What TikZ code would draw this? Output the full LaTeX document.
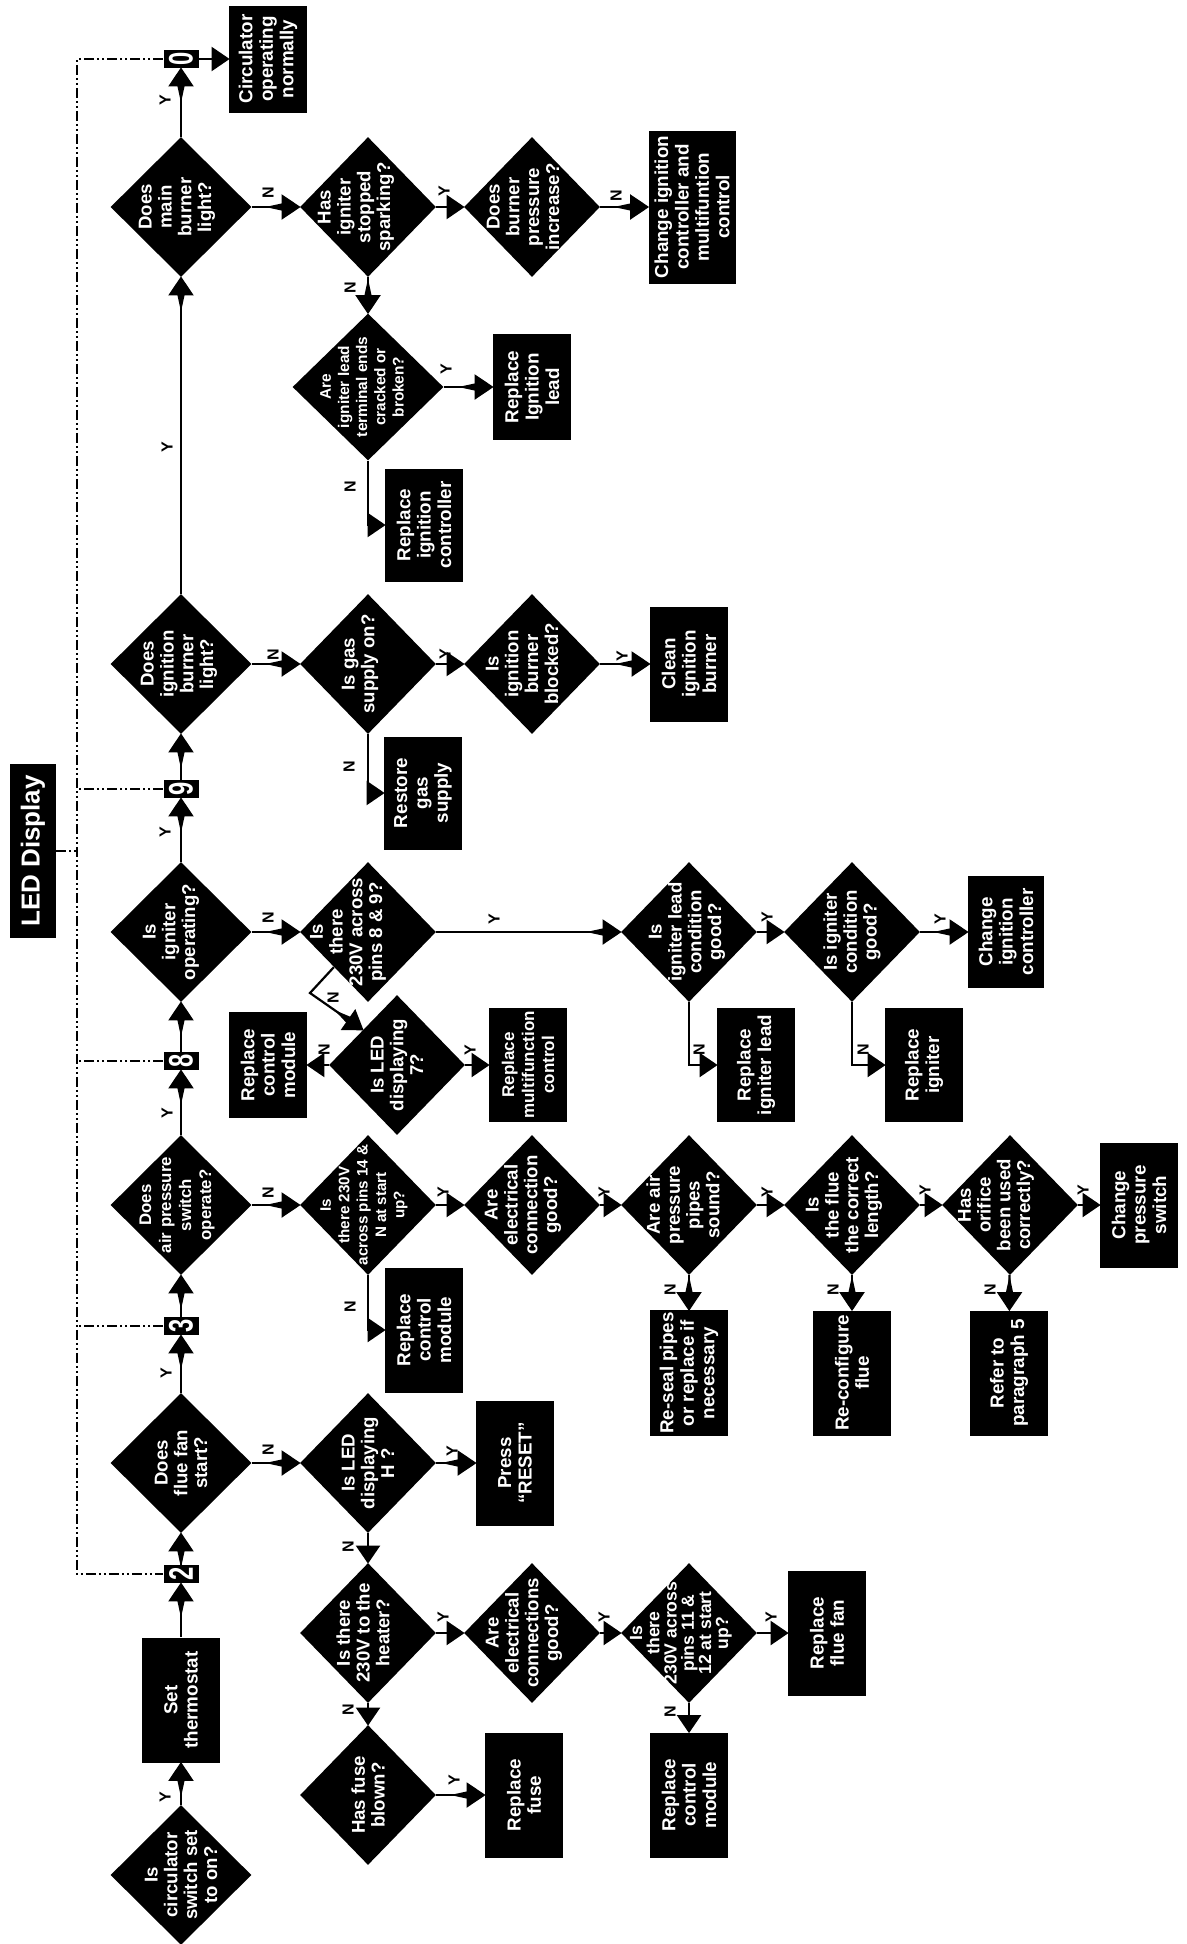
\documentclass[tikz,border=0pt]{standalone}
\usepackage{fontspec}
\setmainfont{Liberation Sans}
\usepackage{graphicx}
\usetikzlibrary{arrows.meta,shapes.geometric,calc}
\newcommand\mkdia[6]{\node[dia,#1] (#2) at (#3) {};\node[dtxt,#4] (#2t) at ($(#2)+(#5,0)$) {#6};}
\newcommand\mklab[3]{\node[yn] (#1) at (#2) {#3};}
\newcommand\mkdig[1]{\scalebox{0.7}[1]{\fontsize{17}{17}\selectfont #1}}
\begin{document}
\begin{tikzpicture}[x=0.5pt,y=-0.5pt,
  every node/.style={font=\fontsize{9.4}{10.2}\selectfont\bfseries},
  dia/.style={diamond, fill=black, inner sep=0pt, minimum width=68pt, minimum height=70pt},
  dmain/.style={minimum width=70.5pt, minimum height=70pt},
  dtxt/.style={text=white, rotate=90, align=center, inner sep=0pt, font=\fontsize{9.3}{9.9}\selectfont\bfseries},
  box/.style={fill=black, text=white, rotate=90, align=center, inner sep=1pt, minimum width=62.5pt, minimum height=39pt},
  digit/.style={fill=black, text=white, rotate=90, inner sep=0pt, minimum width=9pt, minimum height=17.5pt},
  yn/.style={rotate=90, inner sep=0pt, font=\fontsize{8}{8}\selectfont\bfseries},
  arr/.style={line width=1.1pt, -{Triangle[reversed,length=9pt,width=3.4pt,sep=-0.5pt]Triangle[length=9.5pt,width=12.5pt]}, shorten >=-0.5pt},
  arrs/.style={line width=1.1pt, -{Triangle[length=9pt,width=12pt]}, shorten >=-0.5pt},
  dd/.style={line width=0.75pt, dash pattern=on 5pt off 1.5pt on 1pt off 1.5pt on 1pt off 1.5pt}
]
\useasboundingbox (0,0) rectangle (1187,1944);

% ---------- title ----------
\node[box, inner sep=0pt, minimum width=87pt, minimum height=23pt, font=\fontsize{13}{13}\selectfont\bfseries] (led) at (33,851) {LED Display};

% ---------- main column ----------
\mkdia{dmain}{q1}{181,1875}{}{0}{Is\\circulator\\switch set\\to on?}
\node[box] (thermo) at (181,1700) {Set\\thermostat};
\node[digit] (n2) at (181,1574) {\mkdig{2}};
\mkdia{dmain}{q2}{181,1463}{}{0}{Does\\flue fan\\start?}
\node[digit] (n3) at (181,1326) {\mkdig{3}};
\mkdia{dmain}{q3}{181,1205}{font=\fontsize{8.4}{10}\selectfont\bfseries}{-4}{Does\\air pressure\\switch\\operate?}
\node[digit] (n8) at (181,1061) {\mkdig{8}};
\mkdia{dmain}{q4}{181,932}{}{-10}{Is\\igniter\\operating?}
\node[digit] (n9) at (181,789) {\mkdig{9}};
\mkdia{dmain}{q5}{181,664}{}{-2}{Does\\ignition\\burner\\light?}
\mkdia{dmain}{q6}{181,207}{}{-4}{Does\\main\\burner\\light?}
\node[digit] (n0) at (181,59) {\mkdig{0}};
\node[box, minimum width=53.5pt] (ok) at (268,59) {Circulator\\operating\\normally};

% ---------- main burner branch ----------
\mkdia{}{m1}{368,207}{}{-12}{Has\\igniter\\stopped\\sparking?}
\mkdia{}{m2}{532,207}{}{-9}{Does\\burner\\pressure\\increase?}
\node[box, minimum width=76.5pt, minimum height=43.5pt] (cicm) at (692,207) {Change ignition\\controller and\\multifuntion\\control};
\mkdia{minimum width=75.5pt, minimum height=73.5pt}{m3}{368,387}{font=\fontsize{7.7}{9.1}\selectfont\bfseries}{-6}{Are\\igniter lead\\terminal ends\\cracked or\\broken?}
\node[box, minimum width=53pt] (rilead) at (532,387) {Replace\\Ignition\\lead};
\node[box, minimum width=56.5pt] (ric) at (424,525) {Replace\\ignition\\controller};

% ---------- ignition burner branch ----------
\mkdia{}{g1}{368,664}{}{-8}{Is gas\\supply on?}
\node[box, minimum width=56.5pt] (rgas) at (423,793) {Restore\\gas\\supply};
\mkdia{}{g2}{532,664}{}{-10}{Is\\ignition\\burner\\blocked?}
\node[box, minimum width=57.5pt] (clean) at (689,664) {Clean\\ignition\\burner};

% ---------- igniter branch ----------
\mkdia{}{i1}{368,932}{}{-20}{Is\\there\\230V across\\pins 8 \& 9?}
\mkdia{}{i2}{397,1065}{}{0}{Is LED\\displaying\\7?}
\node[box, minimum width=53pt] (cm1) at (268,1065) {Replace\\control\\module};
\node[box, minimum width=57pt, font=\fontsize{8.5}{10}\selectfont\bfseries] (mfc) at (528,1065) {Replace\\multifunction\\control};
\mkdia{}{i3}{689,932}{}{-2}{Is\\igniter lead\\condition\\good?}
\node[box, minimum width=57pt] (rlead) at (756,1065) {Replace\\igniter lead};
\mkdia{}{i4}{852,932}{}{0}{Is igniter\\condition\\good?}
\node[box, minimum width=57pt] (rign) at (924,1065) {Replace\\igniter};
\node[box, minimum width=56pt, minimum height=38pt] (cic) at (1006,932) {Change\\ignition\\controller};
\coordinate (b89) at (310,993);

% ---------- air pressure branch ----------
\mkdia{}{a1}{368,1205}{font=\fontsize{7.6}{9.2}\selectfont\bfseries}{-4}{Is\\there 230V\\across pins 14 \&\\N at start\\up?}
\node[box] (cm2) at (424,1330) {Replace\\control\\module};
\mkdia{}{a2}{532,1205}{}{-9}{Are\\electrical\\connection\\good?}
\mkdia{}{a3}{689,1205}{}{-6}{Are air\\pressure\\pipes\\sound?}
\node[box] (reseal) at (689,1373) {Re-seal pipes\\or replace if\\necessary};
\mkdia{}{a4}{852,1205}{}{-8}{Is\\the flue\\the correct\\length?}
\node[box] (reconf) at (852,1373) {Re-configure\\flue};
\mkdia{}{a5}{1010,1205}{}{-14}{Has\\orifice\\been used\\correctly?}
\node[box] (refer) at (1009,1373) {Refer to\\paragraph 5};
\node[box] (chps) at (1139,1205) {Change\\pressure\\switch};

% ---------- flue fan branch ----------
\mkdia{}{h1}{368,1463}{}{0}{Is LED\\displaying\\H ?}
\node[box] (reset) at (515,1463) {Press\\“RESET”};
\mkdia{}{h2}{368,1633}{}{-5}{Is there\\230V to the\\heater?}
\mkdia{}{h3}{368,1795}{}{0}{Has fuse\\blown?}
\node[box] (fuse) at (524,1795) {Replace\\fuse};
\mkdia{}{h4}{532,1633}{}{-8}{Are\\electrical\\connections\\good?}
\mkdia{}{h5}{689,1633}{font=\fontsize{8.8}{8.6}\selectfont\bfseries}{-8}{Is\\there\\230V across\\pins 11 \&\\12 at start\\up?}
\node[box] (fan) at (827,1633) {Replace\\flue fan};
\node[box] (cm3) at (689,1795) {Replace\\control\\module};

% ---------- LED display dash-dot links ----------
\coordinate (dt) at (77,59);
\coordinate (db) at (77,1574);
\draw[dd] (n0) -- (dt) -- (db) -- (n2);
\draw[dd] (n9) -- (n9 -| dt);
\draw[dd] (n8) -- (n8 -| dt);
\draw[dd] (n3) -- (n3 -| dt);
\draw[dd] (led) -- (led -| dt);

% ---------- connectors ----------
\draw[arr] (q1) -- (thermo);
\draw[arr] (thermo) -- (n2);
\draw[arr] (n2) -- (q2);
\draw[arr] (q2) -- (n3);
\draw[arr] (n3) -- (q3);
\draw[arr] (q3) -- (n8);
\draw[arr] (n8) -- (q4);
\draw[arr] (q4) -- (n9);
\draw[arr] (n9) -- (q5);
\draw[arr] (q5) -- (q6);
\draw[arr] (q6) -- (n0);
\draw[arrs] (n0) -- (ok);

\draw[arr] (q6) -- (m1);
\draw[arrs] (m1) -- (m2);
\draw[arr] (m2) -- (cicm);
\draw[arr] (m1) -- (m3);
\draw[arr] (m3) -- (rilead);
\draw[arrs] (m3.south) |- (ric);

\draw[arr] (q5) -- (g1);
\draw[arrs] (g1.south) |- (rgas);
\draw[arrs] (g1) -- (g2);
\draw[arr] (g2) -- (clean);

\draw[arr] (q4) -- (i1);
\draw[arr] (i1) -- (i3);
\draw[arr] (i1.south west) -- (b89) -- (i2.north west);
\draw[arrs] (i2) -- (cm1);
\draw[arrs] (i2) -- (mfc);
\draw[arrs] (i3.south) |- (rlead);
\draw[arrs] (i3) -- (i4);
\draw[arrs] (i4.south) |- (rign);
\draw[arr] (i4) -- (cic);

\draw[arr] (q3) -- (a1);
\draw[arrs] (a1.south) |- (cm2);
\draw[arrs] (a1) -- (a2);
\draw[arrs] (a2) -- (a3);
\draw[arr] (a3) -- (reseal);
\draw[arrs] (a3) -- (a4);
\draw[arr] (a4) -- (reconf);
\draw[arrs] (a4) -- (a5);
\draw[arr] (a5) -- (refer);
\draw[arrs] (a5) -- (chps);

\draw[arr] (q2) -- (h1);
\draw[arr] (h1) -- (reset);
\draw[arrs] (h1) -- (h2);
\draw[arrs] (h2) -- (h3);
\draw[arr] (h3) -- (fuse);
\draw[arrs] (h2) -- (h4);
\draw[arrs] (h4) -- (h5);
\draw[arrs] (h5) -- (fan);
\draw[arrs] (h5) -- (cm3);

% ---------- Y / N labels ----------
\mklab{l1}{165,1797}{Y}
\mklab{l2}{166,1373}{Y}
\mklab{l3}{167,1113}{Y}
\mklab{l4}{165,832}{Y}
\mklab{l5}{167,447}{Y}
\mklab{l6}{165,100}{Y}

\mklab{l7}{268,193}{N}
\mklab{l8}{444,191}{Y}
\mklab{l9}{616,196}{N}
\mklab{l10}{350,288}{N}
\mklab{l11}{446,369}{Y}
\mklab{l12}{350,487}{N}

\mklab{l13}{273,655}{N}
\mklab{l14}{349,767}{N}
\mklab{l15}{445,654}{Y}
\mklab{l16}{622,656}{Y}

\mklab{l17}{268,918}{N}
\mklab{l18}{494,919}{Y}
\mklab{l19}{333,998}{N}
\mklab{l20}{324,1050}{N}
\mklab{l21}{470,1050}{Y}
\mklab{l22}{699,1050}{N}
\mklab{l23}{767,917}{Y}
\mklab{l24}{863,1050}{N}
\mklab{l25}{940,919}{Y}

\mklab{l26}{268,1193}{N}
\mklab{l27}{350,1307}{N}
\mklab{l28}{443,1192}{Y}
\mklab{l29}{604,1192}{Y}
\mklab{l30}{670,1290}{N}
\mklab{l31}{767,1192}{Y}
\mklab{l32}{833,1290}{N}
\mklab{l33}{925,1190}{Y}
\mklab{l34}{990,1290}{N}
\mklab{l35}{1083,1190}{Y}

\mklab{l36}{268,1450}{N}
\mklab{l37}{452,1451}{Y}
\mklab{l38}{348,1547}{N}
\mklab{l39}{348,1710}{N}
\mklab{l40}{454,1780}{Y}
\mklab{l41}{443,1617}{Y}
\mklab{l42}{604,1617}{Y}
\mklab{l43}{771,1617}{Y}
\mklab{l44}{670,1712}{N}
\end{tikzpicture}
\end{document}
